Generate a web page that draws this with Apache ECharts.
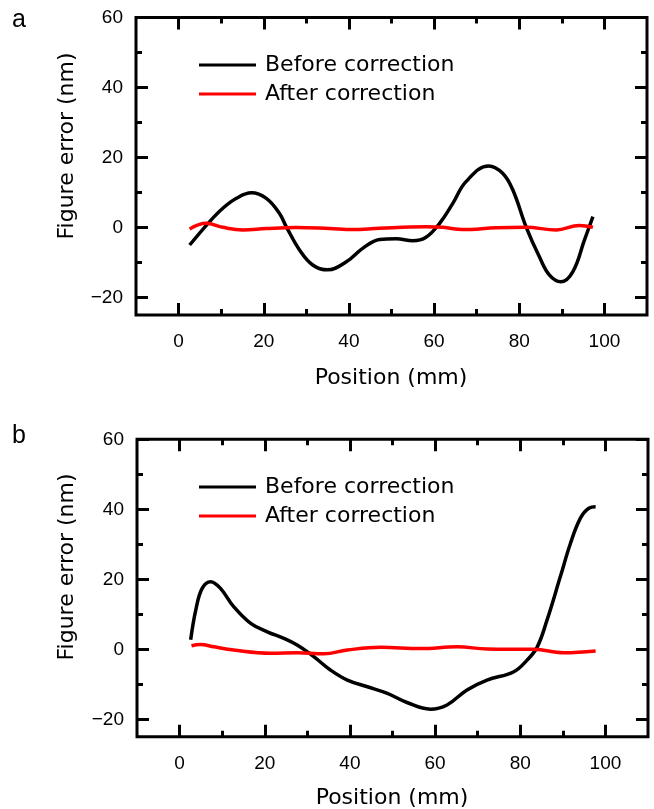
<!DOCTYPE html>
<html>
<head>
<meta charset="utf-8">
<script src="https://cdn.jsdelivr.net/npm/echarts@6/dist/echarts.min.js"></script>
<style>
  html, body { margin: 0; padding: 0; background: #fff; }
  #chart { width: 654px; height: 809px; }
</style>
</head>
<body>
<div id="chart"></div>
<script>
    // tick values
    var xMajor = [0, 20, 40, 60, 80, 100];
    var xMinor = [10, 30, 50, 70, 90];
    var yMajor = [-20, 0, 20, 40, 60];
    var yMinor = [-10, 10, 30, 50];

    // panel a  [position (mm), figure error (nm)]
    var beforeA = [
        [2.6, -5.0], [7.3, 1.7], [10.4, 5.5], [13.5, 8.3], [17.1, 9.9], [20.6, 8.3],
        [23.7, 4.0], [25.3, 0.2], [28.4, -6.4], [31.5, -10.7], [35.0, -12.1], [39.4, -9.8],
        [43.3, -5.9], [47.2, -3.4], [51.1, -3.2], [55.0, -3.8], [58.1, -2.8], [61.3, 1.2],
        [64.4, 6.9], [67.5, 13.1], [72.8, 17.6], [76.1, 15.5], [78.5, 10.7], [81.6, 0.2],
        [84.7, -8.3], [87.1, -13.6], [89.8, -15.5], [92.6, -12.6], [95.3, -3.6], [97.3, 3.1]
    ];
    var afterA = [
        [2.6, -0.4], [6.5, 1.2], [10.4, 0.05], [15.1, -0.7], [20.6, -0.3], [27.6, 0.0],
        [35.4, -0.3], [40.9, -0.6], [47.2, -0.2], [58.1, 0.2], [62.1, 0.05], [66.7, -0.6],
        [74.6, -0.1], [81.6, 0.05], [88.7, -0.7], [94.1, 0.6], [97.3, 0.05]
    ];

    // panel b
    var beforeB = [
        [2.6, 2.7], [3.8, 11.2], [5.3, 17.4], [7.3, 19.3], [9.6, 17.4], [12.7, 12.2],
        [16.7, 7.4], [20.6, 5.0], [24.5, 3.1], [27.6, 1.2], [31.5, -2.1], [35.4, -5.9],
        [39.4, -8.8], [44.1, -10.7], [48.8, -12.6], [53.4, -15.2], [58.9, -17.1], [62.8, -15.9],
        [67.5, -11.6], [72.2, -8.8], [78.5, -6.4], [81.6, -3.1], [84.0, 0.7], [86.3, 8.4],
        [89.4, 20.7], [91.8, 30.3], [94.1, 37.4], [96.1, 40.3], [97.7, 40.7]
    ];
    var afterB = [
        [2.8, 1.0], [4.9, 1.4], [8.1, 0.7], [12.7, -0.2], [21.4, -1.1], [27.6, -1.0],
        [33.9, -1.3], [39.4, -0.2], [47.2, 0.6], [56.6, 0.2], [65.2, 0.7], [72.2, 0.1],
        [83.2, 0.0], [90.2, -1.0], [97.7, -0.5]
    ];

    var NUM_FONT = '"Liberation Sans", Arial, sans-serif';
    var TXT_FONT = '"DejaVu Sans", sans-serif';

    // plot boxes; each box gets a major-tick grid and a minor-tick grid
    var boxes = [
        {left: 136, top: 17.5, width: 511, height: 297.5},
        {left: 137, top: 439.3, width: 511, height: 297.5}
    ];

    /**
     * one tick axis: major ticks carry labels on bottom/left
     */
    function tickAxis(gi, dim, pos, values, major, min, max) {
        var axis = {
            gridIndex: gi,
            type: 'value',
            position: pos,
            min: min,
            max: max,
            axisLine: {show: false, onZero: false},
            splitLine: {show: false},
            axisTick: {
                show: true,
                inside: true,
                length: major ? 12 : 6,
                customValues: values,
                lineStyle: {color: '#000', width: 3}
            },
            axisLabel: {show: false}
        };
        if (major && (pos === 'bottom' || pos === 'left')) {
            axis.axisLabel = {
                show: true,
                customValues: values,
                margin: dim === 'x' ? 17 : 13,
                fontSize: 19,
                fontFamily: NUM_FONT,
                color: '#000',
                formatter: function (v) {
                    return v < 0 ? '\u2212' + Math.abs(v) : String(v);
                }
            };
        }
        return axis;
    }

    var grids = [], xAxes = [], yAxes = [];
    boxes.forEach(function (b) {
        [true, false].forEach(function (major) {
            var gi = grids.length;
            grids.push({
                left: b.left, top: b.top, width: b.width, height: b.height,
                show: major, borderColor: '#000', borderWidth: 3, backgroundColor: 'transparent'
            });
            xAxes.push(tickAxis(gi, 'x', 'bottom', major ? xMajor : xMinor, major, -10, 110));
            xAxes.push(tickAxis(gi, 'x', 'top', major ? xMajor : xMinor, major, -10, 110));
            yAxes.push(tickAxis(gi, 'y', 'left', major ? yMajor : yMinor, major, -25, 60));
            yAxes.push(tickAxis(gi, 'y', 'right', major ? yMajor : yMinor, major, -25, 60));
        });
    });

    // panel index -> axis index of its major grid (2 axes per grid, 2 grids per panel)
    function lineSeries(name, data, panel, color) {
        return {
            name: name,
            type: 'line',
            xAxisIndex: panel * 4,
            yAxisIndex: panel * 4,
            data: data,
            smooth: 0.4,
            showSymbol: false,
            symbol: 'none',
            animation: false,
            lineStyle: {color: color, width: 3.5},
            itemStyle: {color: color}
        };
    }

    function legendAt(top) {
        return {
            left: 194,
            top: top,
            orient: 'vertical',
            icon: 'rect',
            itemWidth: 57,
            itemHeight: 3,
            itemGap: 7,
            selectedMode: false,
            data: ['Before correction', 'After correction'],
            textStyle: {
                fontSize: 22,
                lineHeight: 22,
                fontFamily: TXT_FONT,
                color: '#000',
                padding: [0, 0, 0, 4]
            }
        };
    }

    function label(text, x, y, size, rot) {
        return {
            type: 'text',
            x: x,
            y: y,
            rotation: rot || 0,
            style: {
                text: text,
                fontSize: size,
                fontFamily: TXT_FONT,
                fill: '#000',
                textAlign: 'center',
                textVerticalAlign: 'middle'
            }
        };
    }

    var chart = echarts.init(document.getElementById('chart'), null, {renderer: 'canvas'});
    chart.setOption({
        backgroundColor: '#fff',
        animation: false,
        grid: grids,
        xAxis: xAxes,
        yAxis: yAxes,
        legend: [legendAt(49), legendAt(471)],
        series: [
            lineSeries('Before correction', beforeA, 0, '#000'),
            lineSeries('After correction', afterA, 0, '#ff0000'),
            lineSeries('Before correction', beforeB, 1, '#000'),
            lineSeries('After correction', afterB, 1, '#ff0000')
        ],
        graphic: [
            {type: 'text', x: 12, y: 8, style: {text: 'a', fontSize: 25, fontFamily: NUM_FONT, fill: '#000'}},
            {type: 'text', x: 12, y: 424, style: {text: 'b', fontSize: 25, fontFamily: NUM_FONT, fill: '#000'}},
            label('Figure error (nm)', 67, 146, 22, Math.PI / 2),
            label('Figure error (nm)', 67, 567, 22, Math.PI / 2),
            label('Position (mm)', 391, 378, 22),
            label('Position (mm)', 392, 798, 22)
        ]
    });
</script>
</body>
</html>
